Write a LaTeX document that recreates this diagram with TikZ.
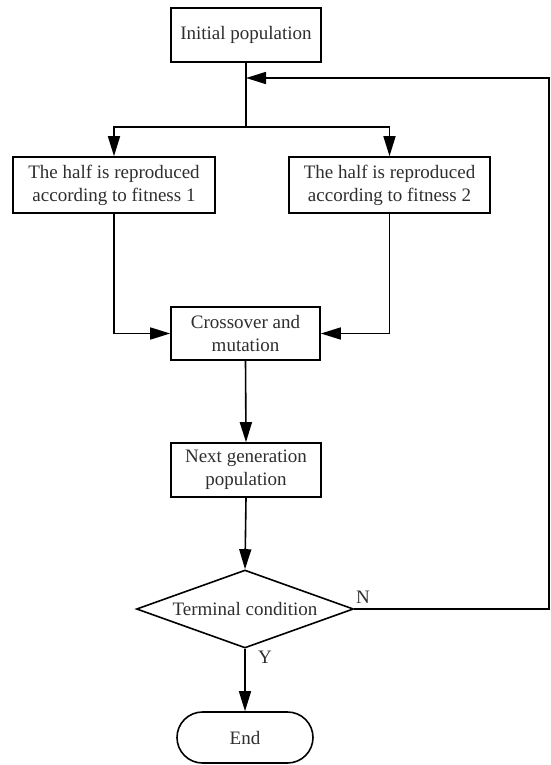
\documentclass[tikz,border=0pt]{standalone}
\usepackage{fontspec}
\setmainfont{Liberation Serif}
\usetikzlibrary{arrows.meta,shapes.geometric,shapes.misc}
\definecolor{txt}{HTML}{2E2E2E}
\begin{document}
\begin{tikzpicture}[x=1pt,y=-1pt,
  line width=1.6pt,
  box/.style={draw,rectangle,inner sep=0pt,text=txt,align=center,
    font=\fontsize{19}{23}\selectfont},
  decision/.style={draw,diamond,inner sep=0pt,aspect=2.78,minimum width=217pt,
    minimum height=78pt,text=txt,font=\fontsize{19}{23}\selectfont},
  term/.style={draw,rounded rectangle,inner sep=0pt,minimum width=136pt,
    minimum height=51pt,text=txt,font=\fontsize{19}{23}\selectfont},
  arr/.style={-{Triangle[length=20pt,width=12pt]}},
  lbl/.style={text=txt,font=\fontsize{19}{23}\selectfont,inner sep=0pt}]
\useasboundingbox (0,0) rectangle (550,765);
\node[box,minimum width=150pt,minimum height=54pt] (init) at (246,35) {Initial population};
\node[box,minimum width=202pt,minimum height=56pt] (lbox) at (114,185) {The half is reproduced\\according to fitness 1};
\node[box,minimum width=201pt,minimum height=56pt] (rbox) at (389.5,185) {The half is reproduced\\according to fitness 2};
\node[box,minimum width=149pt,minimum height=53pt] (cross) at (245.5,333.5) {Crossover and\\mutation};
\node[box,minimum width=150pt,minimum height=54pt] (next) at (246,470) {Next generation\\population};
\node[decision] (dia) at (245,609) {Terminal condition};
\node[term] (end) at (245,737.5) {End};
\coordinate (j) at (246,127);
\coordinate (fb) at (246,78);
\coordinate (c1) at (549,78);
\draw (init.south) -- (j);
\draw[arr] (j) -| (lbox.north);
\draw[arr] (j) -| (rbox.north);
\draw[arr] (lbox.south) |- (cross.west);
\draw[arr] (rbox.south) |- (cross.east);
\draw[arr] (cross.south) -- (next.north);
\draw[arr] (next.south) -- (dia.north);
\draw[arr] (dia.south) -- (end.north);
\draw[arr] (dia.east) -| (c1) -- (fb);
\node[lbl] (nl) at (363,597) {N};
\node[lbl] (yl) at (265,657) {Y};
\end{tikzpicture}
\end{document}
